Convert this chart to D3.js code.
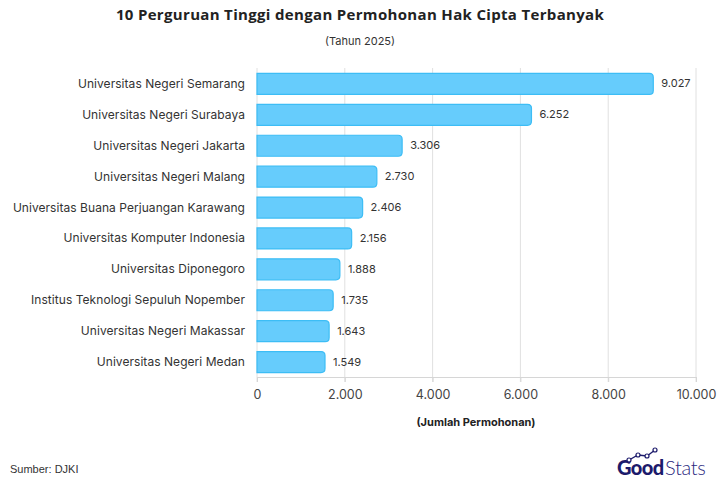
<!DOCTYPE html>
<html><head><meta charset="utf-8">
<script src="https://cdn.jsdelivr.net/npm/d3@7"></script>
<style>
body{margin:0;background:#fff;}
svg{display:block;font-family:Inter, "Open Sans", sans-serif;}
</style></head>
<body>
<svg id="c" width="720" height="480"></svg>
<script>
const categories = ["Universitas Negeri Semarang","Universitas Negeri Surabaya","Universitas Negeri Jakarta","Universitas Negeri Malang","Universitas Buana Perjuangan Karawang","Universitas Komputer Indonesia","Universitas Diponegoro","Institus Teknologi Sepuluh Nopember","Universitas Negeri Makassar","Universitas Negeri Medan"];
const values = [9027,6252,3306,2730,2406,2156,1888,1735,1643,1549];
const valueLabels = ["9.027","6.252","3.306","2.730","2.406","2.156","1.888","1.735","1.643","1.549"];
const tickValues = [0,2000,4000,6000,8000,10000];
const tickLabels = ["0","2.000","4.000","6.000","8.000","10.000"];

const svg = d3.select("#c");
const m = {l:257, r:696, t:68, b:377};
const x = d3.scaleLinear().domain([0,10000]).range([m.l,m.r]);
const y = d3.scaleBand().domain(categories).range([m.t,m.b]).paddingInner(0.32).paddingOuter(0.16);

svg.append("text").attr("x",360).attr("y",20).attr("text-anchor","middle")
  .attr("font-size",15).attr("font-weight",700).attr("fill","#222")
  .attr("font-family","'Open Sans', sans-serif").attr("letter-spacing",0.33)
  .text("10 Perguruan Tinggi dengan Permohonan Hak Cipta Terbanyak");
svg.append("text").attr("x",360).attr("y",45).attr("text-anchor","middle")
  .attr("font-size",11).attr("fill","#333").text("(Tahun 2025)");

// grid
svg.append("g").selectAll("line").data(tickValues).join("line")
  .attr("x1",d=>x(d)).attr("x2",d=>x(d)).attr("y1",m.t).attr("y2",m.b+5)
  .attr("stroke","#e0e0e0").attr("stroke-width",1);

// axis
const ax = svg.append("g").attr("transform",`translate(0,${m.b})`)
  .call(d3.axisBottom(x).tickValues(tickValues).tickFormat((d,i)=>tickLabels[i]).tickSize(5).tickPadding(8));
ax.select(".domain").attr("stroke","#d6d6d6");
ax.selectAll(".tick line").attr("stroke","#d6d6d6");
ax.selectAll("text").attr("font-size",12.5).attr("fill","#444").attr("font-family","Inter, sans-serif");

// bars
const r = 4;
function barPath(x0,x1,y0,h){
  return `M${x0},${y0}H${x1-r}Q${x1},${y0} ${x1},${y0+r}V${y0+h-r}Q${x1},${y0+h} ${x1-r},${y0+h}H${x0}Z`;
}
svg.append("g").selectAll("path").data(values).join("path")
  .attr("d",(d,i)=>barPath(x(0),x(d),y(categories[i])+0.5,y.bandwidth()))
  .attr("fill","#66ccfc").attr("stroke","#3dbdf5").attr("stroke-width",1.2);

// value labels
svg.append("g").selectAll("text").data(values).join("text")
  .attr("x",d=>x(d)+8).attr("y",(d,i)=>y(categories[i])+y.bandwidth()/2+4)
  .attr("font-size",11).attr("fill","#333").text((d,i)=>valueLabels[i]);

// category labels
svg.append("g").selectAll("text").data(categories).join("text")
  .attr("x",m.l-12).attr("y",d=>y(d)+y.bandwidth()/2+4.5).attr("text-anchor","end")
  .attr("font-size",12).attr("fill","#333").attr("letter-spacing",0.05).text(d=>d);

svg.append("text").attr("x",476).attr("y",426).attr("text-anchor","middle")
  .attr("font-size",11).attr("font-weight",700).attr("fill","#222").text("(Jumlah Permohonan)");

svg.append("text").attr("x",10).attr("y",473).attr("font-size",11).attr("fill","#333")
  .attr("font-family","'Liberation Sans Narrow', 'Liberation Sans', sans-serif").text("Sumber: DJKI");

// logo
const lg = svg.append("g");
lg.append("text").attr("x",617).attr("y",475).attr("font-size",20).attr("font-weight",900)
  .attr("fill","#1c1a6b").attr("letter-spacing",-0.6).attr("font-family","Lato, sans-serif").text("Good");
lg.append("text").attr("x",665).attr("y",475).attr("font-size",20).attr("font-weight",300)
  .attr("fill","#2a2880").attr("letter-spacing",-0.3).attr("font-family","Lato, sans-serif").text("Stats");
const pts=[[629,460],[638,455],[647,456],[655,450]];
lg.append("path").attr("d",d3.line()(pts)).attr("fill","none").attr("stroke","#1c1a6b").attr("stroke-width",1.3);
lg.selectAll("circle").data(pts).join("circle").attr("cx",d=>d[0]).attr("cy",d=>d[1]).attr("r",2)
  .attr("fill","#fff").attr("stroke","#1c1a6b").attr("stroke-width",1.2);
</script>
</body></html>
